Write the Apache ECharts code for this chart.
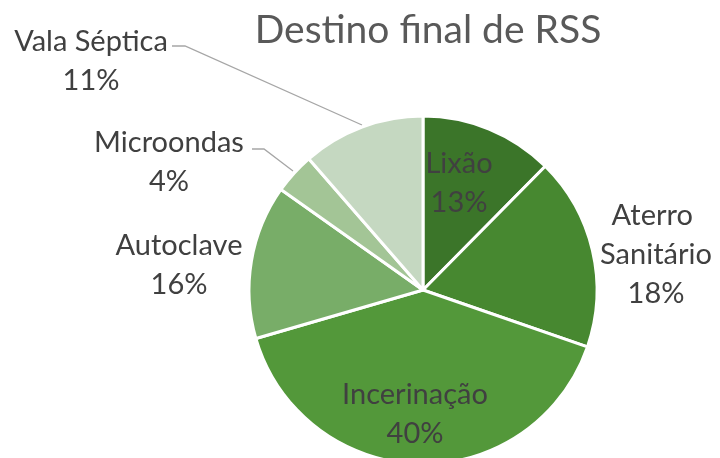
<!DOCTYPE html>
<html>
<head>
<meta charset="utf-8">
<script src="https://cdn.jsdelivr.net/npm/echarts@6/dist/echarts.min.js"></script>
<style>
  html, body { margin: 0; padding: 0; background: #fff; }
  #chart { width: 720px; height: 458px; }
</style>
</head>
<body>
<div id="chart"></div>
<script>
// slices, clockwise from 12 o'clock
var categories = ['Lixão', 'Aterro Sanitário', 'Incerinação', 'Autoclave', 'Microondas', 'Vala Séptica'];
// slice sizes (share of the circle, %)
var shares = [12.4, 17.9, 40.2, 14.3, 3.8, 11.4];
// percentages as printed on the labels
var labelPct = ['13%', '18%', '40%', '16%', '4%', '11%'];
var colors = ['#3b7529', '#478830', '#53983a', '#78ad68', '#a3c596', '#c5d8c1'];

// where each label sits (centre of text block)
var labelPos = [
    [459, 183],
    [656, 255],
    [415, 414],
    [179, 265],
    [169, 162],
    [91, 61]
];
var leaderLines = {
    4: [[293, 171], [264, 149], [252, 149]],
    5: [[362, 125], [185, 46], [172, 46]]
};

var chart = echarts.init(document.getElementById('chart'));

var data = [];
for (var i = 0; i < categories.length; i++) {
    var item = {
        name: categories[i],
        value: shares[i],
        itemStyle: { color: colors[i] },
        labelLine: { show: !!leaderLines[i] }
    };
    if (i == 1) {
        item.label = { width: 140, overflow: 'break' };
    }
    data.push(item);
}

chart.setOption({
    animation: false,
    title: {
        text: 'Destino final de RSS',
        left: 423,
        top: 6,
        textAlign: 'center',
        textStyle: {
            fontFamily: 'Lato',
            fontSize: 39,
            fontWeight: 'normal',
            color: '#595959'
        }
    },
    series: [{
        type: 'pie',
        center: [423, 290],
        radius: [0, 174],
        startAngle: 90,
        clockwise: true,
        avoidLabelOverlap: false,
        itemStyle: { borderColor: '#fff', borderWidth: 3 },
        label: {
            show: true,
            fontFamily: 'Lato',
            fontSize: 29,
            lineHeight: 39,
            color: '#404040',
            align: 'center',
            formatter: function (p) {
                return p.name + '\n' + labelPct[p.dataIndex];
            }
        },
        labelLine: {
            show: true,
            lineStyle: { color: '#a6a6a6', width: 1.3 }
        },
        labelLayout: function (p) {
            var pos = labelPos[p.dataIndex];
            var out = {
                x: pos[0],
                y: pos[1],
                align: 'center',
                verticalAlign: 'middle'
            };
            if (leaderLines[p.dataIndex]) {
                out.labelLinePoints = leaderLines[p.dataIndex];
            }
            return out;
        },
        data: data
    }]
});
</script>
</body>
</html>
